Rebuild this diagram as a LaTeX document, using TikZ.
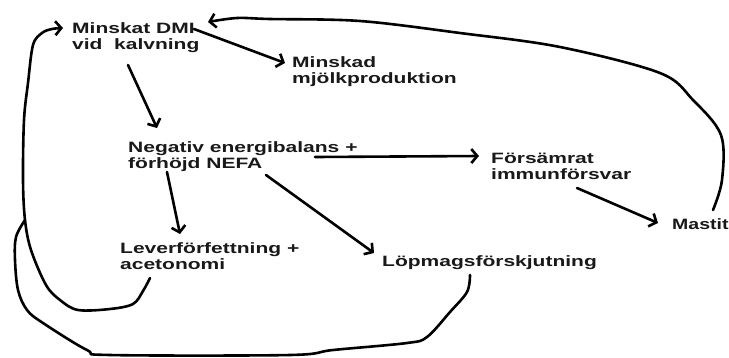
\documentclass[tikz,border=0pt]{standalone}
\usepackage{fontspec}
\setmainfont{Liberation Sans}
\usepackage{graphicx}
\usetikzlibrary{arrows.meta}
\newcommand\wtxt[1]{\scalebox{1.4}[1]{\begin{tabular}[t]{@{}l@{}}#1\end{tabular}}}
\tikzset{
  lbl/.style={anchor=base west, inner sep=0pt, font=\fontsize{15}{16}\selectfont\bfseries, text=black!90},
  arr/.style={line width=2.6pt, -{Straight Barb[length=6pt,width=14pt]}, line join=round, line cap=round},
  crv/.style={line width=2.6pt, line cap=round, line join=round},
}
\begin{document}
\begin{tikzpicture}[x=1pt,y=-1pt]
\useasboundingbox[fill=white] (0,0) rectangle (729,357);
% nodes
\node[lbl] (dmi)  at (72,33)  {\wtxt{Minskat DMI\\vid\ \ kalvning}};
\node[lbl] (milk) at (292,67) {\wtxt{Minskad\\mjölkproduktion}};
\node[lbl] (neb)  at (128,152) {\wtxt{Negativ energibalans +\\förhöjd NEFA}};
\node[lbl] (imm)  at (491,163) {\wtxt{Försämrat\\immunförsvar}};
\node[lbl] (mast) at (672,229) {\scalebox{1.3}[1]{Mastit}};
\node[lbl] (lev)  at (120,253) {\wtxt{Leverförfettning +\\acetonomi}};
\node[lbl] (lop)  at (382,266) {\wtxt{Löpmagsförskjutning}};
\coordinate (join) at (25,220);
% straight arrows
\draw[arr] ([shift={(122,-4)}]dmi.base west) -- ([shift={(-7,-4)}]milk.base west);
\draw[arr] ([shift={(56,32)}]dmi.base west) -- ([shift={(29,-24)}]neb.base west);
\draw[arr] ([shift={(187,5)}]neb.base west) -- ([shift={(-12,-7)}]imm.base west);
\draw[arr] ([shift={(39,20)}]neb.base west) -- ([shift={(60,-19)}]lev.base west);
\draw[arr] ([shift={(138,23)}]neb.base west) -- ([shift={(-8,-13)}]lop.base west);
\draw[arr] ([shift={(86,25)}]imm.base west) -- ([shift={(-14,-6)}]mast.base west);
% big loop mastit -> dmi
\draw[arr] plot[smooth,tension=0.55] coordinates {([shift={(41,-19)}]mast.base west) (722,180) (721,135) (693,100) (660,73) (560,47) (460,33) (360,21) (270,19) (237,18) ([shift={(136,-11)}]dmi.base west)};
% lever loop -> dmi
\draw[arr] plot[smooth,tension=0.55] coordinates {([shift={(30,25)}]lev.base west) (143,291) (133,304) (110,309) (78,310) (60,300) (46,285) (31,250) (join) (23,180) (24,120) (28,83) (33,45) (42,33) (52,29) ([shift={(-9,-5)}]dmi.base west)};
% lopmag loop -> join
\draw[crv] plot[smooth,tension=0.55] coordinates {([shift={(88,9)}]lop.base west) (467,292) (450,312) (427,337) (407,343) (333,350) (290,355) (110,355) (87,350) (43,323) (27,310) (18,290) (15,260) (16,237) (join)};
\end{tikzpicture}
\end{document}
